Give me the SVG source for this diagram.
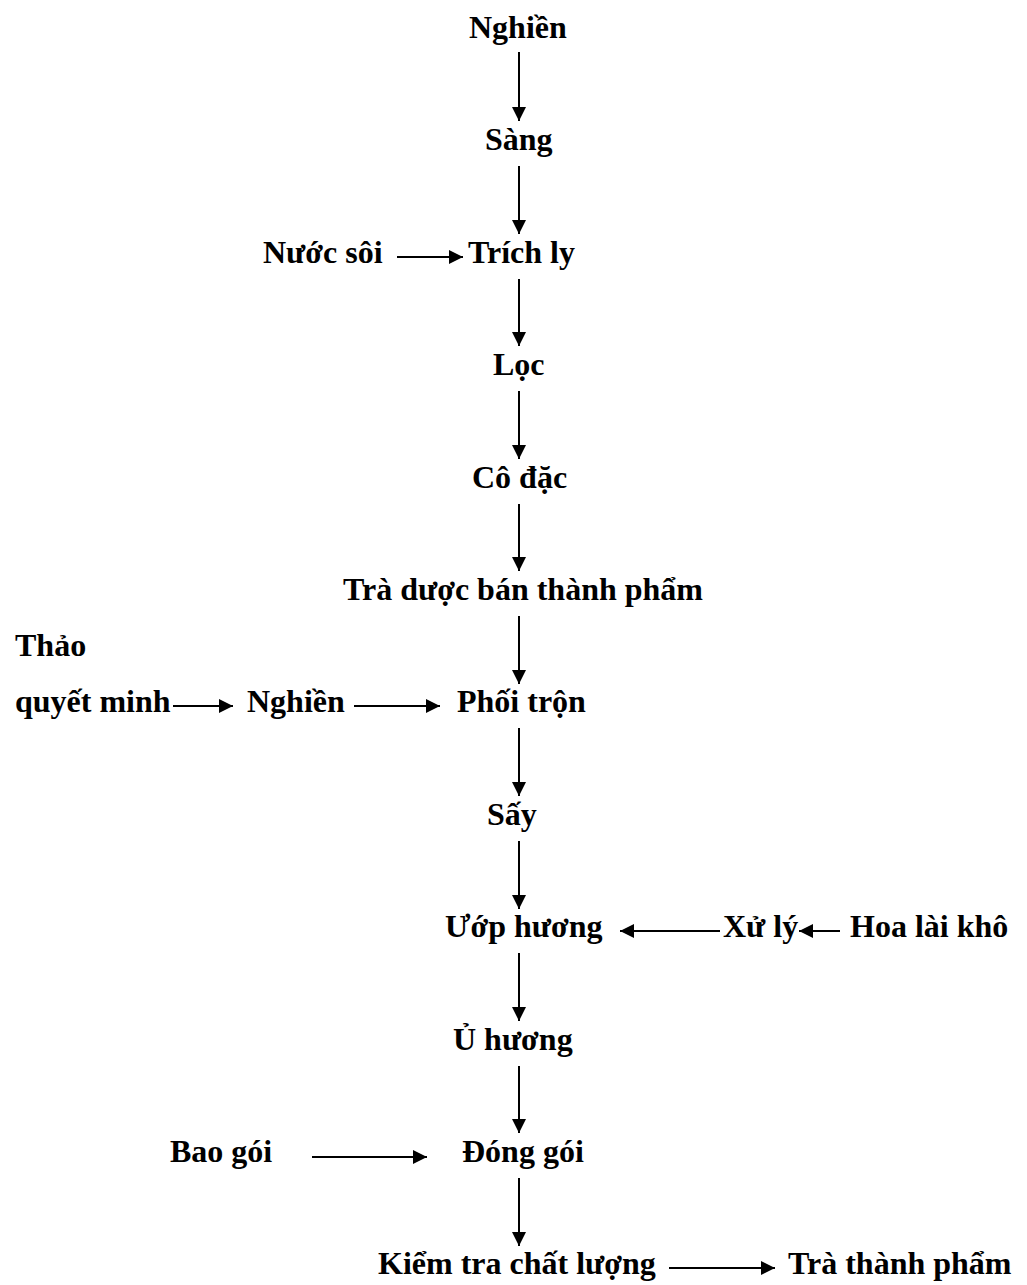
<svg xmlns="http://www.w3.org/2000/svg" width="1027" height="1285" viewBox="0 0 1027 1285">
<style>
text{font-family:"Liberation Serif","Times New Roman",serif;font-weight:bold;font-size:32px;fill:#000}
.c line{stroke:#000;stroke-width:2;marker-end:url(#ah)}
</style>
<defs>
<marker id="ah" viewBox="0 0 14 14" refX="14" refY="7" markerWidth="14" markerHeight="14" orient="auto" markerUnits="userSpaceOnUse"><path d="M0,0 L14,7 L0,14 z" fill="#000"/></marker>
</defs>
<rect width="1027" height="1285" fill="#fff"/>
<g id="n1"><text x="469" y="38">Nghiền</text></g>
<g id="n2"><text x="485" y="150">Sàng</text></g>
<g id="n3"><text x="468" y="263">Trích ly</text></g>
<g id="n3a"><text x="263" y="263">Nước sôi</text></g>
<g id="n4"><text x="493" y="375">Lọc</text></g>
<g id="n5"><text x="472" y="488">Cô đặc</text></g>
<g id="n6"><text x="343" y="600">Trà dược bán thành phẩm</text></g>
<g id="n7a"><text x="15" y="656">Thảo</text><text x="15" y="712">quyết minh</text></g>
<g id="n7b"><text x="247" y="712">Nghiền</text></g>
<g id="n7"><text x="457" y="712">Phối trộn</text></g>
<g id="n8"><text x="487" y="825">Sấy</text></g>
<g id="n9"><text x="445" y="937">Ướp hương</text></g>
<g id="n9a"><text x="723" y="937">Xử lý</text></g>
<g id="n9b"><text x="850" y="937">Hoa lài khô</text></g>
<g id="n10"><text x="453" y="1050">Ủ hương</text></g>
<g id="n11"><text x="462" y="1162">Đóng gói</text></g>
<g id="n11a"><text x="170" y="1162">Bao gói</text></g>
<g id="n12"><text x="378" y="1274">Kiểm tra chất lượng</text></g>
<g id="n12a"><text x="788" y="1274">Trà thành phẩm</text></g>
<g id="connectors" class="c">
<line x1="519" y1="52" x2="519" y2="121"/>
<line x1="519" y1="166" x2="519" y2="234"/>
<line x1="519" y1="279" x2="519" y2="346"/>
<line x1="519" y1="391" x2="519" y2="459"/>
<line x1="519" y1="504" x2="519" y2="571"/>
<line x1="519" y1="616" x2="519" y2="684"/>
<line x1="519" y1="728" x2="519" y2="796"/>
<line x1="519" y1="841" x2="519" y2="909"/>
<line x1="519" y1="953" x2="519" y2="1021"/>
<line x1="519" y1="1066" x2="519" y2="1133"/>
<line x1="519" y1="1178" x2="519" y2="1246"/>
<line x1="397" y1="257" x2="463" y2="257"/>
<line x1="173" y1="706" x2="233" y2="706"/>
<line x1="354" y1="706" x2="440" y2="706"/>
<line x1="720" y1="931" x2="620" y2="931"/>
<line x1="840" y1="931" x2="799" y2="931"/>
<line x1="312" y1="1157" x2="427" y2="1157"/>
<line x1="669" y1="1268" x2="775" y2="1268"/>
</g>
</svg>
